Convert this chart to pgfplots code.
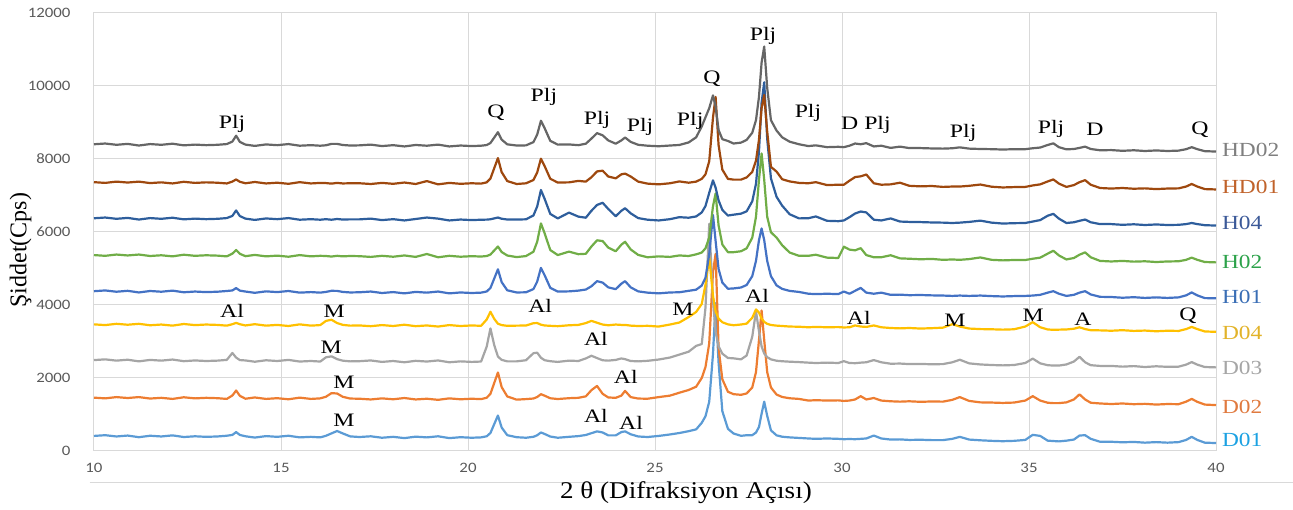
\documentclass[border=0pt]{standalone}
\usepackage{fontspec}
\setmainfont{Liberation Serif}
\newfontfamily\calibri{Carlito}
\usepackage{pgfplots}
\usepackage{pgfplotstable}
\pgfplotsset{compat=1.18}

\definecolor{gridgrey}{HTML}{D9D9D9}
\definecolor{tickgrey}{HTML}{595959}
% line colours
\definecolor{lHDtwo}{HTML}{666666}
\definecolor{lHDone}{HTML}{9E480E}
\definecolor{lHfour}{HTML}{2E5E9C}
\definecolor{lHtwo}{HTML}{70AD47}
\definecolor{lHone}{HTML}{4472C4}
\definecolor{lDfour}{HTML}{FFC000}
\definecolor{lDthree}{HTML}{A5A5A5}
\definecolor{lDtwo}{HTML}{ED7D31}
\definecolor{lDone}{HTML}{5B9BD5}
% label colours
\definecolor{tHDtwo}{HTML}{7F7F7F}
\definecolor{tHDone}{HTML}{C0622A}
\definecolor{tHfour}{HTML}{3B5998}
\definecolor{tHtwo}{HTML}{2CA24A}
\definecolor{tHone}{HTML}{3A6EB5}
\definecolor{tDfour}{HTML}{E2B32A}
\definecolor{tDthree}{HTML}{A6A6A6}
\definecolor{tDtwo}{HTML}{E07A3F}
\definecolor{tDone}{HTML}{1BA1E2}

% XRD intensities (Cps)
\pgfplotstableread{
x D01 D02 D03 D04 H01 H02 H04 HD01 HD02
10.0 400 1450 2480 3460 4370 5360 6370 7360 8400
10.3 420 1430 2500 3440 4390 5340 6390 7340 8420
10.6 385 1465 2465 3475 4355 5375 6355 7375 8385
10.9 410 1440 2490 3450 4380 5350 6380 7350 8410
11.2 365 1465 2445 3475 4335 5375 6335 7375 8365
11.5 405 1425 2485 3435 4375 5335 6375 7335 8405
11.8 385 1445 2465 3455 4355 5355 6355 7355 8385
12.1 415 1415 2495 3425 4385 5325 6385 7325 8415
12.4 370 1460 2450 3470 4340 5370 6340 7370 8370
12.7 390 1430 2470 3440 4360 5340 6360 7340 8390
13.0 375 1445 2455 3455 4345 5355 6345 7355 8375
13.3 385 1435 2465 3445 4355 5345 6355 7345 8385
13.55 405 1415 2485 3425 4375 5325 6375 7325 8405
13.7 427 1509 2675 3464 4390 5399 6435 7377 8473
13.8 505 1645 2549 3500 4455 5500 6585 7435 8635
13.9 427 1500 2480 3464 4385 5395 6430 7370 8465
14.05 390 1420 2470 3430 4360 5330 6360 7330 8390
14.3 355 1455 2435 3465 4325 5365 6325 7365 8355
14.6 395 1415 2475 3425 4365 5325 6365 7325 8395
14.9 375 1435 2455 3445 4345 5345 6345 7345 8375
15.2 405 1405 2485 3415 4375 5315 6375 7315 8405
15.5 360 1450 2440 3460 4330 5360 6330 7360 8360
15.8 375 1415 2455 3425 4345 5325 6345 7325 8375
16.05 360 1430 2440 3440 4330 5340 6330 7340 8360
16.2 403 1474 2555 3554 4350 5335 6345 7335 8372
16.35 469 1573 2583 3587 4380 5320 6330 7320 8410
16.5 535 1564 2506 3496 4378 5340 6350 7340 8410
16.65 469 1474 2464 3446 4350 5325 6335 7325 8380
16.85 387 1425 2445 3425 4335 5335 6340 7330 8365
17.1 370 1420 2450 3430 4340 5330 6340 7330 8370
17.4 390 1400 2470 3410 4360 5310 6360 7310 8390
17.7 350 1430 2430 3440 4320 5340 6320 7340 8350
18.0 375 1405 2455 3415 4345 5315 6345 7315 8375
18.3 340 1440 2420 3450 4310 5350 6310 7350 8340
18.6 380 1400 2460 3410 4350 5310 6350 7310 8380
18.9 360 1420 2440 3430 4330 5390 6390 7390 8360
19.2 390 1390 2470 3400 4360 5300 6360 7300 8390
19.5 340 1430 2420 3440 4310 5340 6310 7340 8340
19.8 365 1405 2445 3415 4335 5315 6335 7315 8365
20.1 350 1420 2430 3430 4320 5330 6320 7330 8350
20.35 360 1410 2440 3420 4330 5320 6330 7320 8360
20.5 390 1447 2850 3593 4362 5334 6333 7355 8378
20.6 480 1556 3350 3805 4458 5375 6342 7460 8434
20.7 720 1848 2895 3613 4714 5485 6366 7740 8582
20.8 960 2140 2577 3478 4970 5595 6390 8020 8730
20.9 630 1739 2486 3440 4618 5444 6357 7635 8527
21.05 420 1483 2445 3420 4394 5348 6336 7390 8397
21.3 365 1395 2445 3425 4335 5305 6335 7310 8365
21.55 350 1410 2476 3428 4339 5333 6341 7329 8369
21.75 376 1426 2669 3492 4428 5452 6448 7419 8459
21.85 418 1468 2683 3496 4633 5727 6694 7626 8666
21.95 495 1545 2545 3451 5010 6230 7145 8005 9045
22.05 453 1503 2476 3429 4805 5955 6899 7798 8838
22.2 383 1433 2449 3420 4462 5498 6489 7453 8493
22.4 350 1412 2430 3410 4359 5361 6366 7350 8390
22.7 375 1435 2465 3435 4365 5455 6525 7355 8395
22.95 395 1445 2455 3445 4385 5385 6415 7395 8375
23.15 425 1485 2525 3495 4415 5395 6385 7375 8415
23.3 475 1655 2600 3555 4505 5595 6575 7495 8555
23.45 525 1770 2535 3505 4645 5765 6735 7655 8705
23.6 495 1555 2475 3455 4605 5745 6795 7675 8645
23.75 415 1455 2465 3435 4475 5565 6625 7515 8505
23.95 415 1445 2485 3455 4425 5465 6425 7465 8415
24.1 505 1505 2525 3445 4575 5645 6575 7575 8505
24.2 525 1635 2505 3445 4645 5725 6645 7595 8585
24.35 445 1465 2455 3425 4475 5515 6505 7515 8465
24.55 385 1425 2445 3415 4365 5365 6375 7375 8385
24.8 370 1420 2460 3420 4330 5300 6330 7320 8360
25.1 400 1465 2495 3400 4310 5325 6310 7300 8345
25.4 440 1505 2550 3455 4335 5310 6345 7330 8365
25.65 480 1585 2630 3510 4340 5350 6400 7380 8380
25.9 530 1660 2710 3660 4380 5335 6385 7345 8450
26.1 580 1750 2870 3800 4411 5380 6420 7375 8590
26.25 760 1990 2920 4020 4525 5430 6530 7450 8890
26.35 940 2290 3920 4550 4740 5545 6706 7575 9140
26.45 1340 2940 6220 5300 5385 5840 7069 7935 9390
26.55 2645 4890 4120 4250 6460 6700 7410 9130 9740
26.62 4040 5390 3250 3816 5750 7050 7212 9700 9440
26.7 2408 2812 2860 3618 4977 6175 6860 8375 8790
26.8 1080 1955 2656 3518 4607 5650 6600 7705 8540
26.95 595 1611 2538 3460 4437 5440 6445 7450 8490
27.1 466 1545 2528 3436 4445 5440 6468 7430 8420
27.3 403 1528 2500 3456 4471 5465 6496 7430 8445
27.45 419 1565 2606 3480 4540 5545 6560 7490 8520
27.6 420 1728 3120 3640 4782 5835 6833 7640 8715
27.7 493 2150 3820 3870 5200 6410 7314 7950 9060
27.78 644 3030 3270 3784 5770 7425 8205 8525 9700
27.85 1010 3840 2855 3620 6090 8150 9539 9390 10640
27.92 1340 3030 2660 3527 5770 7425 10100 9750 11080
28.0 950 2150 2560 3475 5200 6410 8546 8745 9945
28.1 552 1728 2500 3443 4782 5985 7464 7780 9060
28.25 416 1535 2462 3425 4529 5840 6958 7650 8775
28.4 378 1468 2448 3415 4433 5630 6715 7440 8590
28.6 360 1433 2436 3400 4378 5430 6480 7380 8470
28.85 345 1415 2425 3395 4349 5340 6367 7340 8400
29.1 330 1370 2410 3380 4300 5340 6370 7330 8350
29.3 320 1380 2400 3390 4290 5370 6420 7360 8370
29.6 330 1370 2410 3380 4300 5290 6300 7280 8320
29.9 320 1375 2400 3385 4290 5280 6290 7290 8330
30.05 310 1360 2450 3375 4360 5590 6310 7290 8320
30.2 315 1370 2400 3380 4300 5510 6400 7400 8360
30.35 310 1400 2395 3430 4380 5490 6500 7500 8420
30.5 320 1490 2410 3400 4460 5550 6555 7520 8400
30.65 330 1400 2420 3390 4330 5360 6530 7570 8430
30.85 410 1440 2480 3430 4300 5300 6330 7330 8340
31.05 330 1370 2420 3380 4330 5300 6310 7290 8360
31.3 300 1350 2380 3360 4270 5355 6365 7300 8300
31.55 305 1340 2385 3350 4275 5270 6280 7345 8335
31.8 290 1350 2370 3360 4260 5260 6270 7260 8295
32.1 295 1335 2375 3345 4265 5245 6265 7245 8295
32.4 285 1345 2365 3355 4255 5255 6255 7255 8285
32.7 285 1340 2370 3370 4250 5230 6250 7230 8280
32.95 320 1390 2420 3465 4240 5240 6240 7240 8290
33.15 375 1465 2490 3400 4250 5230 6250 7240 8315
33.4 300 1360 2390 3345 4240 5250 6270 7260 8280
33.7 280 1320 2360 3330 4250 5295 6305 7295 8270
34.0 265 1315 2345 3325 4235 5230 6250 7235 8265
34.3 255 1305 2335 3315 4225 5215 6225 7215 8255
34.6 265 1315 2345 3325 4235 5225 6235 7225 8265
34.9 290 1370 2400 3400 4240 5225 6240 7230 8265
35.1 430 1490 2520 3520 4250 5260 6280 7270 8290
35.3 400 1370 2390 3380 4270 5290 6320 7300 8310
35.5 270 1310 2340 3320 4330 5400 6440 7380 8380
35.65 260 1300 2330 3310 4370 5480 6490 7435 8425
35.8 250 1300 2330 3315 4300 5350 6360 7320 8320
36.0 270 1320 2360 3320 4240 5240 6240 7230 8260
36.2 300 1400 2440 3340 4270 5280 6260 7280 8270
36.35 410 1540 2570 3380 4330 5370 6300 7360 8300
36.5 420 1400 2420 3330 4370 5435 6335 7415 8335
36.65 320 1310 2340 3300 4280 5300 6260 7290 8270
36.9 240 1290 2320 3295 4215 5200 6210 7200 8235
37.2 240 1275 2320 3285 4210 5185 6210 7185 8240
37.5 225 1290 2300 3300 4190 5200 6190 7200 8220
37.8 235 1270 2315 3280 4205 5180 6205 7180 8235
38.1 215 1280 2290 3290 4185 5190 6185 7190 8215
38.4 230 1260 2310 3270 4200 5170 6200 7170 8230
38.7 215 1275 2295 3285 4185 5185 6185 7185 8215
39.0 230 1270 2300 3280 4200 5190 6190 7190 8225
39.2 290 1340 2355 3330 4255 5230 6210 7240 8265
39.35 375 1415 2425 3390 4335 5290 6240 7310 8320
39.5 290 1335 2355 3330 4255 5230 6210 7240 8265
39.7 215 1260 2290 3265 4180 5170 6180 7170 8210
40.0 205 1245 2280 3255 4175 5160 6170 7160 8200
}\xrd

\newcommand{\annot}{\fontsize{9.5}{11}\selectfont}
\newcommand{\serlab}{\fontsize{10}{12}\selectfont}

\begin{document}
\begin{tikzpicture}
\path[use as bounding box] (-47pt,-29.25pt) rectangle (599.5pt,225.25pt);
\begin{axis}[
    at={(0,0)}, anchor=south west,
    scale only axis,
    width=561pt, height=218.75pt,
    xmin=10, xmax=40, ymin=0, ymax=12000,
    xtick={10,15,...,40},
    ytick={0,2000,...,12000},
    scaled y ticks=false,
    grid=major,
    grid style={gridgrey, line width=0.5pt},
    axis line style={gridgrey, line width=0.5pt},
    tick style={draw=none},
    ticklabel style={font=\calibri\fontsize{7.2}{9}\selectfont, text=tickgrey, xscale=1.17},
    xticklabel style={yshift=-3pt},
    yticklabel style={xshift=-6.5pt},
    /pgf/number format/1000 sep={},
    /pgf/number format/assume math mode=true,
    clip=false,
    every axis plot/.append style={line width=1.1pt, mark=none, line join=round},
]
\addplot[lDone]   table[x=x, y=D01]  {\xrd};
\addplot[lDtwo]   table[x=x, y=D02]  {\xrd};
\addplot[lDthree] table[x=x, y=D03]  {\xrd};
\addplot[lDfour]  table[x=x, y=D04]  {\xrd};
\addplot[lHone]   table[x=x, y=H01]  {\xrd};
\addplot[lHtwo]   table[x=x, y=H02]  {\xrd};
\addplot[lHfour]  table[x=x, y=H04]  {\xrd};
\addplot[lHDone]  table[x=x, y=HD01] {\xrd};
\addplot[lHDtwo]  table[x=x, y=HD02] {\xrd};

% phase labels, upper group
\begin{scope}[every node/.style={font=\annot, inner sep=0pt, xscale=1.25}]
\node at (axis cs:13.69,8945) {Plj};
\node at (axis cs:20.75,9274) {Q};
\node at (axis cs:22.03,9685) {Plj};
\node at (axis cs:23.45,9055) {Plj};
\node at (axis cs:24.60,8863) {Plj};
\node at (axis cs:25.94,9027) {Plj};
\node at (axis cs:26.52,10205) {Q};
\node at (axis cs:27.89,11383) {Plj};
\node at (axis cs:29.09,9247) {Plj};
\node at (axis cs:30.64,8918) {D Plj};
\node at (axis cs:33.24,8699) {Plj};
\node at (axis cs:35.59,8808) {Plj};
\node at (axis cs:36.76,8808) {D};
\node at (axis cs:39.57,8808) {Q};
% lower group
\node at (axis cs:13.69,3822) {Al};
\node at (axis cs:16.42,3822) {M};
\node at (axis cs:21.93,3959) {Al};
\node at (axis cs:25.75,3877) {M};
\node at (axis cs:27.73,4233) {Al};
\node at (axis cs:30.45,3630) {Al};
\node at (axis cs:33.02,3575) {M};
\node at (axis cs:35.11,3712) {M};
\node at (axis cs:36.44,3603) {A};
\node at (axis cs:39.25,3685) {Q};
\node at (axis cs:16.34,2836) {M};
\node at (axis cs:23.42,3055) {Al};
\node at (axis cs:16.68,1877) {M};
\node at (axis cs:24.22,2014) {Al};
\node at (axis cs:16.68,836) {M};
\node at (axis cs:23.42,945) {Al};
\node at (axis cs:24.36,753) {Al};
\end{scope}

% sample names at the right end
\begin{scope}[every node/.style={font=\serlab, anchor=west, inner sep=0pt, xscale=1.17}]
\node[text=tHDtwo]  at (axis cs:40.15,8233) {HD02};
\node[text=tHDone]  at (axis cs:40.15,7219) {HD01};
\node[text=tHfour]  at (axis cs:40.15,6233) {H04};
\node[text=tHtwo]   at (axis cs:40.15,5164) {H02};
\node[text=tHone]   at (axis cs:40.15,4205) {H01};
\node[text=tDfour]  at (axis cs:40.15,3219) {D04};
\node[text=tDthree] at (axis cs:40.15,2260) {D03};
\node[text=tDtwo]   at (axis cs:40.15,1192) {D02};
\node[text=tDone]   at (axis cs:40.15,288)  {D01};
\end{scope}

\draw[gridgrey, line width=0.5pt] (axis description cs:-0.004,-0.072) -- (axis description cs:1.069,-0.072);
\node[rotate=90, font=\fontsize{12}{14}\selectfont] at (axis description cs:-0.0655,0.458) {Şiddet(Cps)};
\node[font=\fontsize{12}{14}\selectfont, xscale=1.13] at (axis description cs:0.5276,-0.097) {2 θ (Difraksiyon Açısı)};
\end{axis}
\end{tikzpicture}
\end{document}
